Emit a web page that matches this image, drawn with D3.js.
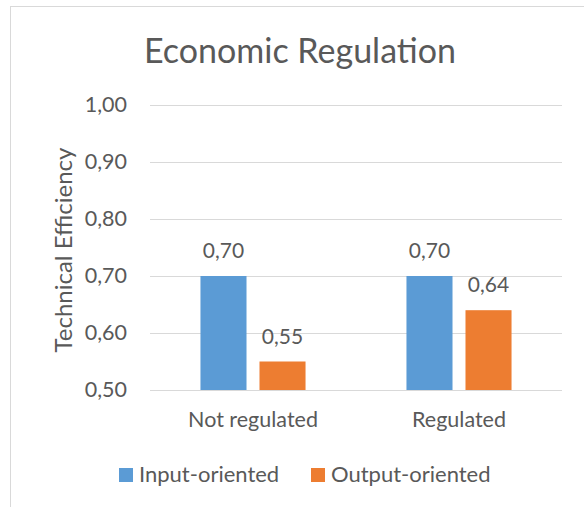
<!DOCTYPE html>
<html>
<head>
<meta charset="utf-8">
<script src="https://cdn.jsdelivr.net/npm/d3@7"></script>
<style>
  body { margin: 0; background: #fff; }
  svg text { font-family: Lato, 'Open Sans', sans-serif; fill: #595959; }
</style>
</head>
<body>
<div class="chart-container"></div>
<script>
const width = 584;
const height = 507;

const categories = ['Not regulated', 'Regulated'];
const seriesNames = ['Input-oriented', 'Output-oriented'];
const inputOriented = [0.70, 0.70];
const outputOriented = [0.55, 0.64];
const yTicks = [0.5, 0.6, 0.7, 0.8, 0.9, 1.0];
const colors = ['#5b9bd5', '#ed7d31'];

const values = [inputOriented, outputOriented];
const commaFormat = d3.formatLocale({ decimal: ',', thousands: '.', grouping: [3], currency: ['', ''] }).format('.2f');

const svg = d3.select('.chart-container').append('svg')
  .attr('width', width)
  .attr('height', height);

// chart border (runs off the right and bottom edges, like the original)
svg.append('rect')
  .attr('x', 10.5).attr('y', 6.5)
  .attr('width', 600).attr('height', 520)
  .attr('fill', 'none')
  .attr('stroke', '#d9d9d9');

const scaleY = d3.scaleLinear().domain([0.5, 1.0]).range([390, 105]);
const scaleX = d3.scaleBand().domain(categories).range([150, 562]).paddingInner(0.49).paddingOuter(0.245);
const scaleSeries = d3.scaleBand().domain(seriesNames).range([0, scaleX.bandwidth()]).paddingInner(0.22);

// gridlines
svg.append('g')
  .selectAll('line')
  .data(yTicks)
  .join('line')
  .attr('x1', 150).attr('x2', 562)
  .attr('y1', (d) => Math.round(scaleY(d)) + 0.5)
  .attr('y2', (d) => Math.round(scaleY(d)) + 0.5)
  .attr('stroke', '#d9d9d9');

// y axis labels
const axisY = d3.axisLeft(scaleY).tickValues(yTicks).tickFormat(commaFormat).tickSize(0).tickPadding(23);
const gY = svg.append('g').attr('transform', 'translate(150,0)').call(axisY);
gY.select('.domain').remove();
gY.selectAll('text').style('font-size', '21.5px').style('font-family', null).attr('fill', '#595959');

// x axis labels
const axisX = d3.axisBottom(scaleX).tickSize(0).tickPadding(22);
const gX = svg.append('g').attr('transform', 'translate(0,390)').call(axisX);
gX.select('.domain').remove();
gX.selectAll('text').style('font-size', '21.5px').attr('fill', '#595959');
gY.attr('font-family', null);
gX.attr('font-family', null);

// bars
const groups = svg.append('g')
  .selectAll('g')
  .data(categories)
  .join('g')
  .attr('transform', (d) => 'translate(' + scaleX(d) + ',0)');

seriesNames.forEach((name, si) => {
  groups.append('rect')
    .attr('x', scaleSeries(name))
    .attr('y', (d, i) => scaleY(values[si][i]))
    .attr('width', scaleSeries.bandwidth())
    .attr('height', (d, i) => scaleY(0.5) - scaleY(values[si][i]))
    .attr('fill', colors[si]);

  groups.append('text')
    .attr('x', scaleSeries(name) + scaleSeries.bandwidth() / 2)
    .attr('y', (d, i) => scaleY(values[si][i]) - 18)
    .attr('text-anchor', 'middle')
    .style('font-size', '21px')
    .text((d, i) => commaFormat(values[si][i]));
});

// title
svg.append('text')
  .attr('x', 300).attr('y', 63)
  .attr('text-anchor', 'middle')
  .style('font-size', '34px')
  .text('Economic Regulation');

// y axis title
svg.append('text')
  .attr('transform', 'translate(72,250) rotate(-90)')
  .attr('text-anchor', 'middle')
  .style('font-size', '24px')
  .text('Technical Efficiency');

// legend
const legendX = [119, 311];
const legend = svg.append('g')
  .selectAll('g')
  .data(seriesNames)
  .join('g')
  .attr('transform', (d, i) => 'translate(' + legendX[i] + ',468)');
legend.append('rect')
  .attr('width', 14).attr('height', 14)
  .attr('fill', (d, i) => colors[i]);
legend.append('text')
  .attr('x', 20).attr('y', 14)
  .style('font-size', '22px')
  .text((d) => d);
</script>
</body>
</html>
